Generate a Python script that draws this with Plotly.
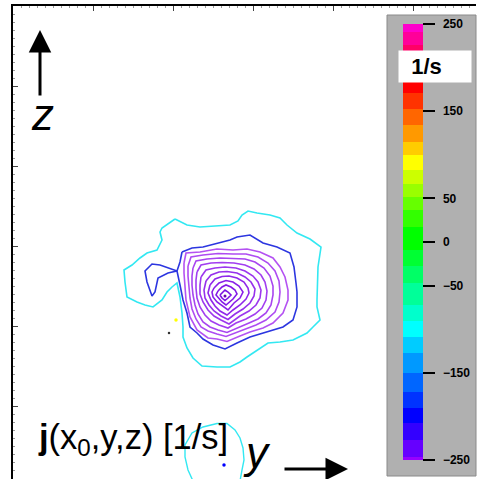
import plotly.graph_objects as go

# ---------------- data (grid units: horizontal = y, vertical = z) ----------------
cyan_y = [162, 174, 187, 204, 217, 225, 229, 235, 244, 257, 267, 274, 284, 297, 308, 305, 304, 304, 304, 307,
          300, 294, 280, 267, 255, 247, 234, 227, 217, 204, 189, 180, 174, 170, 170, 169, 167, 164, 159, 154,
          149, 140, 132, 124, 114, 112, 111, 119, 127, 134, 144, 149, 147, 149, 162]
cyan_z = [267, 261, 259, 260, 261, 265, 271, 275, 273, 271, 268, 261, 253, 247, 239, 219, 199, 186, 179, 166,
          159, 153, 146, 144, 143, 138, 129, 124, 119, 119, 120, 128, 138, 149, 159, 173, 189, 203, 199, 194,
          186, 179, 181, 184, 189, 204, 216, 221, 228, 233, 236, 246, 254, 258, 267]

blue_y = [169, 179, 190, 204, 217, 224, 237, 250, 264, 277, 281, 283, 284, 284, 280, 270, 254, 237, 224, 212,
          200, 190, 184, 177, 174, 170, 167, 164, 155, 145, 142, 139, 134, 132, 139, 147, 164, 167, 169]
blue_z = [234, 238, 239, 243, 246, 249, 251, 243, 239, 233, 219, 203, 194, 179, 166, 159, 154, 149, 143, 137,
          141, 147, 153, 159, 173, 186, 201, 215, 213, 208, 194, 190, 204, 215, 222, 221, 215, 224, 234]

ring_y = [
    [207, 210, 212, 215, 218, 215, 212, 209, 207],
    [205, 209, 213, 218, 222, 224, 220, 216, 213, 209, 206, 203, 205],
    [201, 206, 213, 220, 226, 230, 227, 221, 215, 209, 204, 200, 199, 201],
    [197, 202, 209, 216, 224, 231, 235, 236, 233, 227, 220, 214, 207, 202, 198, 195, 197],
    [193, 198, 206, 214, 224, 232, 238, 242, 241, 237, 230, 222, 215, 208, 201, 196, 192, 191, 193],
    [188, 193, 202, 212, 223, 232, 240, 245, 248, 247, 243, 236, 227, 216, 208, 201, 195, 190, 187, 187, 188],
    [184, 188, 198, 209, 221, 232, 241, 248, 252, 254, 253, 249, 242, 233, 223, 215, 206, 198, 192, 187, 184,
     183, 183, 184],
    [180, 183, 194, 207, 220, 232, 242, 251, 257, 260, 260, 258, 253, 245, 236, 227, 214, 205, 197, 190, 185,
     182, 180, 179, 179, 180],
    [175, 178, 190, 205, 220, 233, 245, 255, 262, 266, 267, 266, 262, 253, 243, 232, 222, 213, 204, 195, 188,
     183, 179, 177, 176, 175, 175],
    [171, 173, 187, 204, 220, 234, 247, 260, 267, 272, 275, 275, 270, 260, 250, 237, 227, 214, 204, 195, 184,
     177, 173, 172, 171, 171],
]
ring_z = [
    [191, 194, 196, 194, 191, 188, 185.5, 188, 191],
    [195, 199, 201, 199, 196, 192, 187, 184, 181, 184, 187, 191, 195],
    [198, 203, 205.5, 204, 200, 194, 188, 183, 176, 180, 184, 189, 194, 198],
    [201, 207, 209.5, 210, 208, 204, 198, 193, 187, 181, 176, 171, 175, 180, 186, 193, 201],
    [205, 211, 214, 214.5, 213, 209, 204, 197, 190, 183, 177, 172, 166.5, 170, 175, 181, 188, 196, 205],
    [209, 216, 218, 219, 218, 215, 210, 204, 196, 188, 181, 175, 170, 162, 166, 170, 176, 184, 192, 201, 209],
    [214, 221, 223, 223.5, 223, 221, 217, 211, 204, 195, 186, 178, 172, 167, 163, 158, 161, 165, 171, 179, 188,
     198, 206, 214],
    [218, 225, 227, 228, 227.5, 227, 224, 218, 210, 200, 191, 181, 173, 167, 163, 159, 153.5, 156, 159, 164, 172,
     181, 191, 201, 210, 218],
    [220, 229, 231, 232.5, 232, 232, 229, 223, 215, 205, 194, 184, 174, 166, 161, 157, 153, 149.5, 152, 155, 159,
     167, 177, 188, 199, 210, 220],
    [223, 233, 234, 237, 236, 237, 234, 228, 219, 209, 196, 186, 173, 163, 158, 154, 150, 144.5, 147, 148, 156,
     169, 186, 199, 213, 223],
]
ring_colors = ["#7c12e2", "#8318e6", "#8a20e8", "#9028ea", "#9630ec",
               "#9c37ee", "#a23ef0", "#a845f0", "#ae4cf2", "#b452f2"]

# small closed contour at the bottom edge
arc_y = [180, 175, 172, 172, 179, 190, 204, 214, 222, 227, 230, 231, 229, 227]
arc_z = [5, 16, 29, 41, 53, 59, 62.5, 62.5, 56, 48, 38, 26, 16, 5]

# isolated points (value in 1/s)
pt_y = [163, 211]
pt_z = [166, 21]
pt_val = [90, -200]
center_y, center_z = [212], [190]
dash_y, dash_z = [156], [153]

# colour bar bands (1/s), bottom to top
band_edges = [-250, -246, -227, -208, -190.7, -171.7, -150.6, -127.6, -108.6, -91, -72, -47, -28, -9,
              17.5, 36.7, 52, 67, 82.6, 100, 115, 134, 153, 170.5, 184, 205, 226, 241, 250]
band_colors = ["#9900ff", "#6600ff", "#3300ff", "#0000ff", "#0033ff", "#0066ff", "#0099ff", "#00ccff",
               "#00ffff", "#00ffcc", "#00ff99", "#00ff66", "#00ff33", "#00ff00", "#33ff00", "#66ff00",
               "#99ff00", "#ccff00", "#ffff00", "#ffcc00", "#ff9900", "#ff6600", "#ff3300", "#ff0000",
               "#ff0033", "#ff0066", "#ff0099", "#ff00cc"]
cb_tickvals = [250, 150, 50, 0, -50, -150, -250]
cb_ticktext = ["250", "150", "50", "0", "\u221250", "\u2212150", "\u2212250"]

# ---------------- figure ----------------
W, H = 481, 479
lo, hi = band_edges[0], band_edges[-1]
cscale = []
for i, c in enumerate(band_colors):
    cscale.append([(band_edges[i] - lo) / (hi - lo), c])
    cscale.append([(band_edges[i + 1] - lo) / (hi - lo), c])

fig = go.Figure()
fig.add_trace(go.Scatter(x=cyan_y, y=cyan_z, mode="lines", line=dict(color="#33e8f2", width=1.6),
                         hoverinfo="skip"))
fig.add_trace(go.Scatter(x=arc_y, y=arc_z, mode="lines", line=dict(color="#33e8f2", width=1.4),
                         hoverinfo="skip"))
fig.add_trace(go.Scatter(x=blue_y, y=blue_z, mode="lines", line=dict(color="#2c36e0", width=1.6),
                         hoverinfo="skip"))
for ry, rz, rc in zip(ring_y, ring_z, ring_colors):
    fig.add_trace(go.Scatter(x=ry, y=rz, mode="lines", line=dict(color=rc, width=1.6), hoverinfo="skip"))
fig.add_trace(go.Scatter(x=center_y, y=center_z, mode="markers",
                         marker=dict(color="#6a00b0", size=3), hoverinfo="skip"))
fig.add_trace(go.Scatter(x=dash_y, y=dash_z, mode="markers",
                         marker=dict(color="#333333", size=2.5), hoverinfo="skip"))
fig.add_trace(go.Scatter(
    x=pt_y, y=pt_z, mode="markers", hoverinfo="skip",
    marker=dict(color=pt_val, colorscale=cscale, cmin=lo, cmax=hi, size=3.5, showscale=True,
                colorbar=dict(x=403 / W, xanchor="left", y=1 - 24 / H, yanchor="top",
                              lenmode="pixels", len=436, thicknessmode="pixels", thickness=20,
                              xpad=0, ypad=0, outlinewidth=0, bgcolor="rgba(0,0,0,0)",
                              ticks="outside", ticklen=12, tickwidth=2, tickcolor="black",
                              tickmode="array", tickvals=cb_tickvals,
                              ticktext=["\u2002" + t for t in cb_ticktext],
                              tickfont=dict(family="Liberation Sans, Arial", size=12, color="black",
                                            weight="bold")))))

axis_common = dict(showline=True, linecolor="black", linewidth=1.5, ticks="inside", ticklen=5,
                   tickwidth=1, tickcolor="#444444", tickmode="linear", tick0=0, dtick=80,
                   showticklabels=False, showgrid=False, zeroline=False, fixedrange=True,
                   minor=dict(ticks="inside", dtick=8, ticklen=2.5, tickwidth=1, tickcolor="#999999",
                              showgrid=False))
fig.update_layout(
    width=W, height=H, margin=dict(l=0, r=0, t=0, b=0),
    paper_bgcolor="white", plot_bgcolor="white", showlegend=False,
    xaxis=dict(domain=[13 / W, 476 / W], range=[0, 463], side="top", **axis_common),
    yaxis=dict(domain=[0, 1 - 6 / H], range=[7, 480], **axis_common),
    shapes=[dict(type="rect", xref="paper", yref="paper", x0=387 / W, x1=476 / W,
                 y0=1 - 476 / H, y1=1 - 15 / H, fillcolor="#b0b0b0",
                 line=dict(color="#8a8a8a", width=1), layer="above")],
    annotations=[
        dict(xref="paper", yref="paper", x=435 / W, y=1 - 66 / H, xanchor="center", yanchor="middle",
             text="\u00a0\u00a0<b>1/s</b>", showarrow=False, align="left", width=72, height=31,
             bgcolor="white", borderpad=0,
             font=dict(family="Liberation Sans, Arial", size=22, color="black")),
        dict(xref="paper", yref="paper", x=42 / W, y=1 - 115 / H, xanchor="center", yanchor="middle",
             text="z", showarrow=False,
             font=dict(family="Liberation Sans, Arial", size=44, color="black", style="italic")),
        dict(xref="paper", yref="paper", x=257 / W, y=1 - 452 / H, xanchor="center", yanchor="middle",
             text="y", showarrow=False,
             font=dict(family="Liberation Sans, Arial", size=44, color="black", style="italic")),
        dict(xref="paper", yref="paper", x=36 / W, y=1 - 439 / H, xanchor="left", yanchor="middle",
             text="<b>j</b>(x<sub>0</sub>,y,z) [1/s]", showarrow=False,
             font=dict(family="Liberation Sans, Arial", size=34.5, color="black")),
        dict(xref="paper", yref="paper", x=40 / W, y=1 - 30 / H, text="", showarrow=True,
             ax=0, ay=67, arrowhead=2, arrowwidth=3, arrowsize=1.5, arrowcolor="black"),
        dict(xref="paper", yref="paper", x=348 / W, y=1 - 469 / H, text="", showarrow=True,
             ax=-65, ay=0, arrowhead=2, arrowwidth=3, arrowsize=1.5, arrowcolor="black"),
    ],
)
fig.write_html("out.html", config={"displayModeBar": False},
               post_script="document.body.style.margin='0px';")
